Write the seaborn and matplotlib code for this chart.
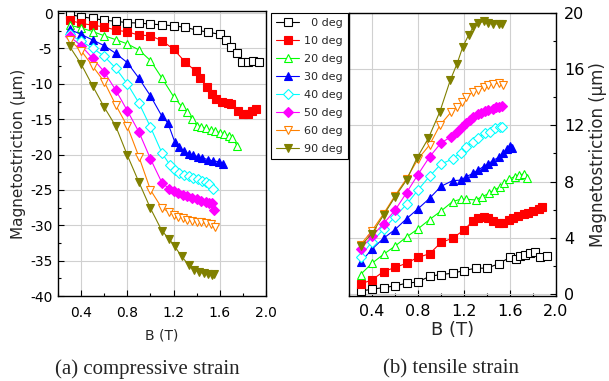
import matplotlib
matplotlib.use("Agg")
import matplotlib.pyplot as plt
import seaborn as sns
from matplotlib.ticker import MultipleLocator

sns.set_style("whitegrid")
plt.rcParams['font.family'] = ['DejaVu Sans']
plt.rcParams['axes.unicode_minus'] = False

# legend / style per angle
angles = ["\u20070 deg", "10 deg", "20 deg", "30 deg", "40 deg", "50 deg", "60 deg", "90 deg"]
colors = ["black", "#ff0000", "#00ff00", "#0000ff", "#00ffff", "#ff00ff", "#ff8000", "#808000"]
markers = ["s", "s", "^", "^", "D", "D", "v", "v"]
filled = [False, True, False, True, False, True, False, True]

# (a) compressive strain
c0_b = [0.3, 0.4, 0.5, 0.6, 0.7, 0.8, 0.9, 1.0, 1.1, 1.2, 1.3, 1.4, 1.5, 1.6, 1.65, 1.7, 1.75, 1.79, 1.84, 1.89, 1.94]
c0_v = [-0.2, -0.5, -0.75, -1.0, -1.15, -1.35, -1.4, -1.55, -1.65, -1.8, -2.0, -2.4, -2.7, -3.0, -3.8, -4.8, -5.7, -6.9, -6.9, -6.8, -6.9]
c10_b = [0.3, 0.4, 0.5, 0.6, 0.7, 0.8, 0.9, 1.0, 1.1, 1.2, 1.3, 1.39, 1.43, 1.49, 1.53, 1.57, 1.62, 1.67, 1.70, 1.76, 1.80, 1.84, 1.88, 1.91]
c10_v = [-1.0, -1.46, -1.7, -1.95, -2.4, -2.65, -3.1, -3.2, -3.9, -5.1, -6.9, -8.2, -9.2, -10.5, -11.5, -12.1, -12.5, -12.7, -12.8, -13.9, -14.2, -14.3, -13.8, -13.6]
c20_b = [0.3, 0.4, 0.5, 0.6, 0.7, 0.8, 0.9, 1.0, 1.1, 1.2, 1.27, 1.32, 1.36, 1.40, 1.44, 1.48, 1.52, 1.56, 1.60, 1.64, 1.68, 1.71, 1.75]
c20_v = [-1.7, -2.1, -2.6, -3.2, -3.75, -4.35, -5.2, -6.7, -9.2, -11.8, -13.2, -14.0, -15.0, -15.9, -16.1, -16.3, -16.5, -16.7, -16.9, -17.1, -17.4, -17.6, -18.8]
c30_b = [0.3, 0.4, 0.5, 0.6, 0.7, 0.8, 0.9, 1.0, 1.1, 1.15, 1.21, 1.25, 1.29, 1.33, 1.37, 1.41, 1.45, 1.50, 1.54, 1.59, 1.63]
c30_v = [-2.3, -3.0, -3.8, -4.6, -5.7, -7.0, -9.2, -11.7, -14.6, -15.5, -18.2, -19.0, -19.5, -19.9, -20.1, -20.3, -20.5, -20.7, -20.9, -21.0, -21.4]
c40_b = [0.3, 0.4, 0.5, 0.6, 0.7, 0.8, 0.9, 1.0, 1.1, 1.17, 1.21, 1.25, 1.29, 1.33, 1.37, 1.41, 1.45, 1.48, 1.51, 1.54]
c40_v = [-3.0, -4.0, -4.95, -6.1, -7.8, -10.0, -12.7, -16.1, -19.8, -21.5, -22.2, -22.6, -22.9, -23.1, -23.3, -23.5, -23.7, -23.9, -24.1, -24.8]
c50_b = [0.3, 0.4, 0.5, 0.6, 0.7, 0.8, 0.9, 1.0, 1.1, 1.16, 1.2, 1.24, 1.28, 1.32, 1.36, 1.40, 1.44, 1.48, 1.51, 1.53, 1.55]
c50_v = [-3.3, -4.6, -6.4, -8.3, -10.9, -13.8, -16.8, -20.6, -24.0, -24.8, -25.2, -25.5, -25.7, -25.9, -26.1, -26.3, -26.5, -26.7, -26.8, -26.9, -27.8]
c60_b = [0.3, 0.4, 0.5, 0.6, 0.7, 0.8, 0.9, 1.0, 1.1, 1.16, 1.2, 1.24, 1.28, 1.32, 1.36, 1.40, 1.44, 1.48, 1.52, 1.56]
c60_v = [-3.8, -5.3, -7.5, -9.7, -13.0, -16.0, -20.3, -25.0, -27.6, -28.1, -28.5, -28.8, -29.0, -29.2, -29.4, -29.5, -29.6, -29.7, -29.8, -30.3]
c90_b = [0.3, 0.4, 0.5, 0.6, 0.7, 0.8, 0.9, 1.0, 1.1, 1.16, 1.21, 1.27, 1.33, 1.38, 1.42, 1.46, 1.50, 1.53, 1.55]
c90_v = [-4.7, -7.2, -10.3, -13.3, -16.0, -20.1, -23.9, -27.6, -30.8, -31.9, -33.0, -34.4, -35.6, -36.3, -36.6, -36.8, -36.9, -37.0, -36.9]

# (b) tensile strain
t0_b = [0.3, 0.4, 0.5, 0.6, 0.7, 0.8, 0.9, 1.0, 1.1, 1.2, 1.3, 1.4, 1.5, 1.6, 1.65, 1.69, 1.73, 1.77, 1.82, 1.86, 1.92]
t0_v = [0.2, 0.33, 0.45, 0.57, 0.76, 0.85, 1.25, 1.38, 1.47, 1.66, 1.83, 1.83, 2.14, 2.61, 2.47, 2.70, 2.78, 2.94, 3.01, 2.66, 2.70]
t10_b = [0.3, 0.4, 0.5, 0.6, 0.7, 0.8, 0.9, 1.0, 1.1, 1.2, 1.28, 1.32, 1.37, 1.41, 1.45, 1.50, 1.54, 1.59, 1.63, 1.67, 1.72, 1.76, 1.80, 1.85, 1.88]
t10_v = [0.7, 1.0, 1.59, 1.88, 2.18, 2.61, 2.85, 3.66, 3.96, 4.55, 5.22, 5.38, 5.45, 5.38, 5.22, 5.08, 5.03, 5.27, 5.38, 5.55, 5.69, 5.78, 5.93, 6.03, 6.21]
t20_b = [0.3, 0.4, 0.5, 0.6, 0.7, 0.8, 0.9, 1.0, 1.1, 1.17, 1.22, 1.30, 1.36, 1.42, 1.46, 1.51, 1.55, 1.59, 1.64, 1.68, 1.72, 1.75]
t20_v = [1.38, 2.18, 2.82, 3.4, 4.05, 4.63, 5.29, 5.9, 6.57, 6.74, 6.74, 6.69, 6.93, 7.17, 7.40, 7.59, 7.88, 8.16, 8.35, 8.47, 8.54, 8.23]
t30_b = [0.3, 0.4, 0.5, 0.6, 0.7, 0.8, 0.9, 1.0, 1.1, 1.17, 1.22, 1.28, 1.32, 1.37, 1.41, 1.45, 1.50, 1.54, 1.57, 1.60, 1.62]
t30_v = [2.25, 3.18, 3.96, 4.58, 5.35, 6.06, 6.8, 7.66, 8.06, 8.1, 8.35, 8.59, 8.82, 9.06, 9.25, 9.49, 9.72, 10.0, 10.3, 10.5, 10.4]
t40_b = [0.3, 0.4, 0.5, 0.6, 0.7, 0.8, 0.9, 1.0, 1.1, 1.17, 1.22, 1.28, 1.32, 1.38, 1.43, 1.47, 1.51, 1.53]
t40_v = [2.66, 3.72, 4.6, 5.5, 6.37, 7.4, 8.37, 9.25, 9.6, 10.06, 10.46, 10.84, 11.08, 11.44, 11.55, 11.79, 11.91, 11.9]
t50_b = [0.3, 0.4, 0.5, 0.6, 0.7, 0.8, 0.9, 1.0, 1.09, 1.14, 1.18, 1.22, 1.25, 1.28, 1.32, 1.35, 1.38, 1.41, 1.45, 1.48, 1.50, 1.53]
t50_v = [3.2, 4.1, 5.0, 5.95, 7.2, 8.5, 9.75, 10.75, 11.2, 11.55, 11.9, 12.2, 12.4, 12.6, 12.8, 12.9, 13.0, 13.1, 13.2, 13.3, 13.3, 13.35]
t60_b = [0.3, 0.4, 0.5, 0.6, 0.7, 0.8, 0.9, 0.99, 1.09, 1.14, 1.18, 1.22, 1.28, 1.32, 1.37, 1.41, 1.45, 1.50, 1.54]
t60_v = [3.5, 4.5, 5.7, 7.0, 8.2, 9.6, 10.6, 12.0, 12.97, 13.3, 13.69, 14.0, 14.4, 14.55, 14.7, 14.85, 14.96, 15.0, 14.87]
t90_b = [0.3, 0.4, 0.5, 0.6, 0.7, 0.79, 0.89, 0.99, 1.08, 1.14, 1.19, 1.24, 1.28, 1.32, 1.37, 1.41, 1.45, 1.50, 1.53]
t90_v = [3.4, 4.3, 5.6, 6.9, 8.1, 9.66, 11.08, 12.97, 15.2, 16.4, 17.6, 18.43, 19.0, 19.27, 19.4, 19.3, 19.25, 19.2, 19.25]

comp = [(c0_b, c0_v), (c10_b, c10_v), (c20_b, c20_v), (c30_b, c30_v),
        (c40_b, c40_v), (c50_b, c50_v), (c60_b, c60_v), (c90_b, c90_v)]
tens = [(t0_b, t0_v), (t10_b, t10_v), (t20_b, t20_v), (t30_b, t30_v),
        (t40_b, t40_v), (t50_b, t50_v), (t60_b, t60_v), (t90_b, t90_v)]

x_ticks = [0.4, 0.8, 1.2, 1.6, 2.0]
comp_yticks = [-40, -35, -30, -25, -20, -15, -10, -5, 0]
tens_yticks = [0, 4, 8, 12, 16, 20]

W, H = 609, 381
fig = plt.figure(figsize=(W / 100, H / 100), dpi=100)
ax1 = fig.add_axes([58 / W, 1 - 296 / H, (266 - 58) / W, (296 - 11) / H])
ax2 = fig.add_axes([349 / W, 1 - 296 / H, (556 - 349) / W, (296 - 13) / H])


def draw(ax, series):
    for (b, v), lab, c, m, f in zip(series, angles, colors, markers, filled):
        ms = 4.8 if m == "D" else 5.4
        sns.lineplot(x=b, y=v, ax=ax, color=c, marker=m, markersize=ms,
                     markerfacecolor=c if f else "white", markeredgecolor=c,
                     markeredgewidth=0.8, linewidth=0.8, label=lab,
                     errorbar=None, legend=False)


draw(ax1, comp)
draw(ax2, tens)

for ax in (ax1, ax2):
    ax.set_xlim(0.2, 2.0)
    ax.set_xticks(x_ticks, labels=[f"{t:.1f}" for t in x_ticks])
    ax.xaxis.set_minor_locator(MultipleLocator(0.2))
    ax.grid(True, which="major", color="#d0d0d0", linewidth=0.8)
    ax.grid(False, which="minor")
    ax.set_axisbelow(True)
    for s in ax.spines.values():
        s.set_color("black")
        s.set_linewidth(1.0)

# left panel
ax1.set_ylim(-40, 0.3)
ax1.set_yticks(comp_yticks, labels=[str(t) for t in comp_yticks])
ax1.yaxis.set_minor_locator(MultipleLocator(2.5))
ax1.tick_params(which="both", direction="in", bottom=True, left=True, colors="black")
ax1.tick_params(axis="y", which="major", length=4, width=0.8, labelsize=10, pad=4)
ax1.tick_params(axis="x", which="major", length=4, width=0.8, labelsize=10, pad=7)
ax1.tick_params(which="minor", length=2, width=0.8)
ax1.set_xlabel("B (T)", fontsize=10, labelpad=6)
ax1.set_ylabel("Magnetostriction (\u03bcm)", fontsize=11, labelpad=3)

# right panel
ax2.set_ylim(-0.15, 20)
ax2.yaxis.tick_right()
ax2.yaxis.set_label_position("right")
ax2.set_yticks(tens_yticks, labels=[str(t) for t in tens_yticks])
ax2.yaxis.set_minor_locator(MultipleLocator(2))
ax2.tick_params(which="both", direction="in", bottom=True, right=True, left=False, colors="black")
ax2.tick_params(axis="y", which="major", length=4, width=0.8, labelsize=11.5, pad=6)
ax2.tick_params(axis="x", which="major", length=4, width=0.8, labelsize=11.5, pad=6)
ax2.tick_params(which="minor", length=2, width=0.8)
ax2.set_xlabel("B (T)", fontsize=13, labelpad=1)
ax2.set_ylabel("Magnetostriction (\u03bcm)", fontsize=12, labelpad=3)

handles, labels = ax1.get_legend_handles_labels()
leg = fig.legend(handles, labels, loc="upper left", bbox_to_anchor=(271 / W, 1 - 13 / H),
                 fontsize=8, frameon=True, fancybox=False, edgecolor="black", framealpha=1,
                 borderaxespad=0, handlelength=2.1, handletextpad=0.45,
                 labelspacing=0.72, borderpad=0.45)
leg.get_frame().set_linewidth(0.8)

fig.text(147 / W, 1 - 369 / H, "(a) compressive strain", ha="center", va="center",
         family="Liberation Serif", fontsize=15)
fig.text(451 / W, 1 - 369 / H, "(b) tensile strain", ha="center", va="center",
         family="Liberation Serif", fontsize=15)

fig.savefig("out.png", dpi=100)
